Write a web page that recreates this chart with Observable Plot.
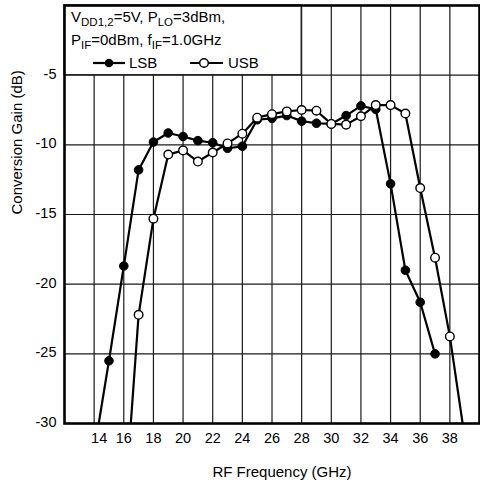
<!DOCTYPE html>
<html>
<head>
<meta charset="utf-8">
<script src="https://cdn.jsdelivr.net/npm/d3@7"></script>
<script src="https://cdn.jsdelivr.net/npm/@observablehq/plot@0.6"></script>
<style>
  html, body { margin: 0; padding: 0; background: #fff; }
  #chart { width: 480px; height: 485px; }
</style>
</head>
<body>
<div id="chart"></div>
<script>
// ---- data ----
const lsbFreq = [14, 15, 16, 17, 18, 19, 20, 21, 22, 23, 24, 25, 26, 27, 28, 29, 30, 31, 32, 33, 34, 35, 36, 37];
const lsbGain = [-32, -25.5, -18.7, -11.8, -9.8, -9.15, -9.4, -9.7, -9.85, -10.25, -10.1, -8.2, -8.1, -7.9, -8.3, -8.45, -8.5, -7.9, -7.2, -7.45, -12.8, -19.0, -21.3, -25.0];
const usbFreq = [16, 17, 18, 19, 20, 21, 22, 23, 24, 25, 26, 27, 28, 29, 30, 31, 32, 33, 34, 35, 36, 37, 38, 39];
const usbGain = [-37, -22.2, -15.3, -10.7, -10.4, -11.2, -10.55, -9.9, -9.2, -8.05, -7.8, -7.6, -7.5, -7.55, -8.5, -8.55, -7.95, -7.15, -7.15, -7.75, -13.1, -18.1, -23.75, -31];
const xTicks = [14, 16, 18, 20, 22, 24, 26, 28, 30, 32, 34, 36, 38];
const yTicks = [-30, -25, -20, -15, -10, -5];
const xDomain = [12, 40];
const yDomain = [-30, 0];
const xLabel = "RF Frequency (GHz)";
const yLabel = "Conversion Gain (dB)";
// legend box extent (data units)
const legendBox = [{x1: 12, x2: 28, y1: -5, y2: 0}];

const lsb = lsbFreq.map((f, i) => ({f, g: lsbGain[i]}));
const usb = usbFreq.map((f, i) => ({f, g: usbGain[i]}));

const FONT = "'Liberation Sans', Arial, Helvetica, sans-serif";

const chart = Plot.plot({
  width: 480,
  height: 485,
  marginLeft: 64,
  marginRight: 1,
  marginTop: 5,
  marginBottom: 62,
  style: {fontFamily: FONT, fontSize: "14.5px", color: "#000", background: "#fff"},
  x: {domain: xDomain},
  y: {domain: yDomain},
  marks: [
    Plot.ruleX(xTicks, {stroke: "#1a1a1a", strokeWidth: 1.2}),
    Plot.ruleY(yTicks.filter(d => d > yDomain[0]), {stroke: "#1a1a1a", strokeWidth: 1.2}),
    Plot.rect(legendBox, {x1: "x1", x2: "x2", y1: "y1", y2: "y2", fill: "white", stroke: "#1a1a1a", strokeWidth: 1.2}),
    Plot.line(lsb, {x: "f", y: "g", stroke: "black", strokeWidth: 2.2, clip: true}),
    Plot.dot(lsb, {x: "f", y: "g", r: 4.3, fill: "black", stroke: "black", strokeWidth: 1, clip: true}),
    Plot.line(usb, {x: "f", y: "g", stroke: "black", strokeWidth: 2.2, clip: true}),
    Plot.dot(usb, {x: "f", y: "g", r: 4.3, fill: "white", stroke: "black", strokeWidth: 1.4, clip: true}),
    Plot.frame({stroke: "black", strokeWidth: 2.6}),
    Plot.axisX(xTicks.filter(d => d !== 14), {tickSize: 0, tickPadding: 9, fontSize: 14.5, label: null}),
    Plot.axisX([14], {tickSize: 0, tickPadding: 9, fontSize: 14.5, label: null, dx: 5}),
    Plot.axisY(yTicks, {tickSize: 0, tickPadding: 8, fontSize: 14.5, label: null, tickFormat: d => String(d), dy: -1}),
    Plot.text([xLabel], {frameAnchor: "bottom", dy: 49, dx: 10, fontSize: 15, lineAnchor: "middle"}),
    Plot.text([yLabel], {frameAnchor: "left", dx: -47, rotate: -90, fontSize: 15, lineAnchor: "middle"})
  ]
});

document.getElementById("chart").appendChild(chart);

// ---- legend text with subscripts ----
const svg = d3.select(chart);
const g = svg.append("g")
  .attr("font-family", FONT)
  .attr("font-size", 15)
  .attr("fill", "black")
  .attr("text-anchor", "start");
function richLine(x, y, parts) {
  const t = g.append("text").attr("x", x).attr("y", y);
  let sub = false;
  for (const [s, isSub] of parts) {
    const ts = t.append("tspan").text(s);
    if (isSub && !sub) ts.attr("dy", 4).attr("font-size", 11.5);
    else if (isSub) ts.attr("font-size", 11.5);
    else if (!isSub && sub) ts.attr("dy", -4);
    sub = isSub;
  }
}
richLine(71, 22, [["V", false], ["DD1,2", true], ["=5V, P", false], ["LO", true], ["=3dBm,", false]]);
richLine(71, 45, [["P", false], ["IF", true], ["=0dBm, f", false], ["IF", true], ["=1.0GHz", false]]);

const ly = 63;
// LSB symbol
g.append("line").attr("x1", 93).attr("x2", 125).attr("y1", ly).attr("y2", ly).attr("stroke", "black").attr("stroke-width", 2.2);
g.append("circle").attr("cx", 109).attr("cy", ly).attr("r", 4.3).attr("fill", "black");
g.append("text").attr("x", 129).attr("y", ly).attr("dy", "0.35em").text("LSB");
// USB symbol
g.append("line").attr("x1", 190).attr("x2", 223).attr("y1", ly).attr("y2", ly).attr("stroke", "black").attr("stroke-width", 2.2);
g.append("circle").attr("cx", 204).attr("cy", ly).attr("r", 4.3).attr("fill", "white").attr("stroke", "black").attr("stroke-width", 1.4);
g.append("text").attr("x", 228).attr("y", ly).attr("dy", "0.35em").text("USB");
</script>
</body>
</html>
